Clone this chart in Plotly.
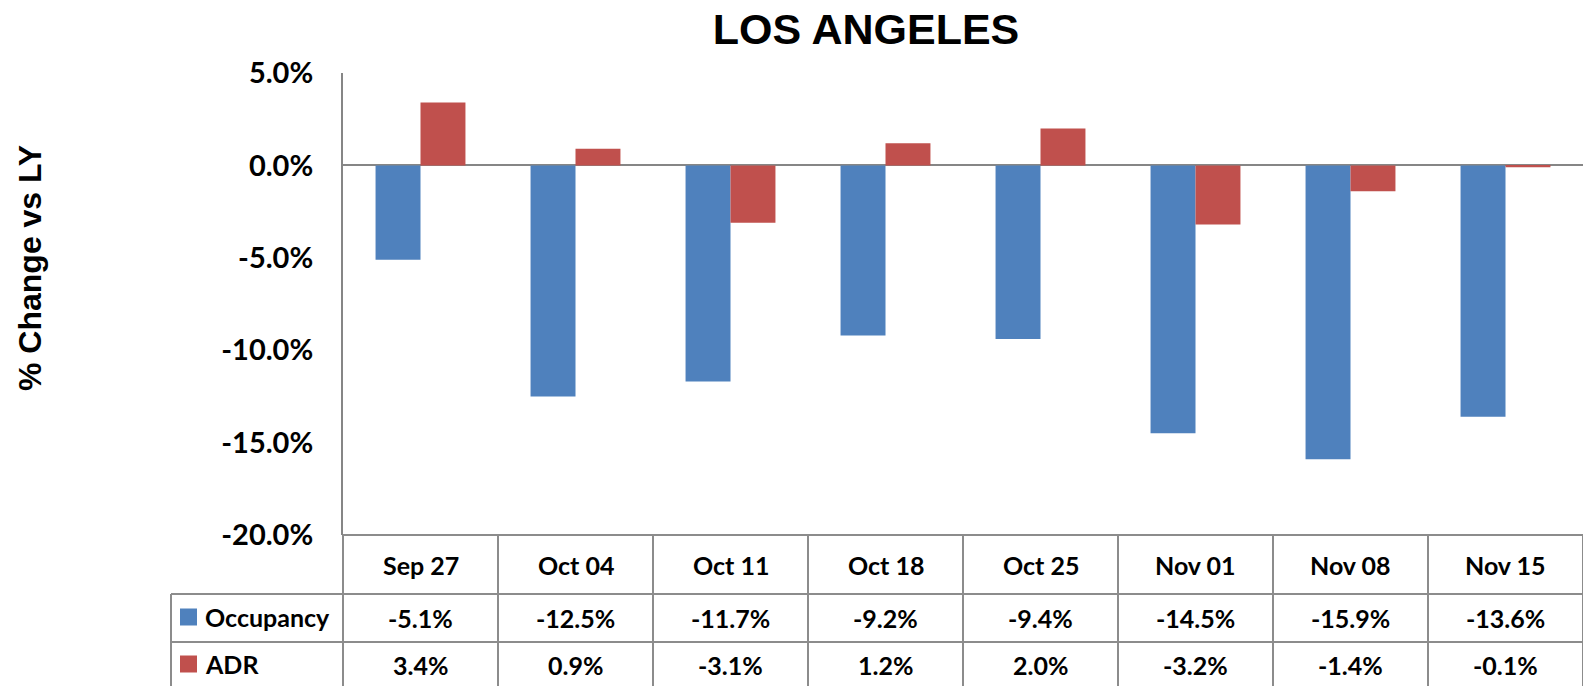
import plotly.graph_objects as go

# ---- data ----
CATEGORIES = ["Sep 27", "Oct 04", "Oct 11", "Oct 18", "Oct 25", "Nov 01", "Nov 08", "Nov 15"]
OCCUPANCY = [-5.1, -12.5, -11.7, -9.2, -9.4, -14.5, -15.9, -13.6]
ADR = [3.4, 0.9, -3.1, 1.2, 2.0, -3.2, -1.4, -0.1]
SERIES_NAMES = ["Occupancy", "ADR"]
TICK_VALS = [5, 0, -5, -10, -15, -20]
TICK_TEXT = ["5.0%", "0.0%", "-5.0%", "-10.0%", "-15.0%", "-20.0%"]
TITLE = "LOS ANGELES"
Y_TITLE = "% Change vs LY"

# ---- style ----
W, H = 1583, 686
ML, MR, MT, MB = 343, 0, 73, 151
PLOT_H = H - MT - MB
PLOT_W = W - ML - MR
BLUE = "#4F81BD"
RED = "#C0504D"
GRID = "#8C8C8C"
AXIS = "#868686"
FONT = "Lato"
TITLE_FONT = "Liberation Sans"


def py(px):  # pixel (from top) -> paper y
    return (H - MB - px) / PLOT_H


def dx(px):  # pixel (from left) -> x domain
    return (px - ML) / PLOT_W


fig = go.Figure()
fig.add_trace(go.Bar(x=CATEGORIES, y=OCCUPANCY, name=SERIES_NAMES[0], marker_color=BLUE,
                     marker_line_width=0))
fig.add_trace(go.Bar(x=CATEGORIES, y=ADR, name=SERIES_NAMES[1], marker_color=RED,
                     marker_line_width=0))

shapes = []
row_top = H - MB  # 535
row1 = 594
row2 = 642
row_bot = 700
n = len(CATEGORIES)
# header top line
shapes.append(dict(type="line", xref="x domain", yref="paper", x0=0, x1=1,
                   y0=py(row_top), y1=py(row_top), line=dict(color=GRID, width=2)))
# row lines
for r in (row1, row2):
    shapes.append(dict(type="line", xref="x domain", yref="paper", x0=dx(171), x1=1,
                       y0=py(r), y1=py(r), line=dict(color=GRID, width=2)))
# vertical column separators
for i in range(n + 1):
    shapes.append(dict(type="line", xref="x domain", yref="paper", x0=i / n, x1=i / n,
                       y0=py(row_top), y1=py(row_bot), line=dict(color=GRID, width=2)))
# left border of legend column
shapes.append(dict(type="line", xref="x domain", yref="paper", x0=dx(171), x1=dx(171),
                   y0=py(row1), y1=py(row_bot), line=dict(color=GRID, width=2)))
# legend swatches
for (yc, col) in ((617, BLUE), (664, RED)):
    shapes.append(dict(type="rect", xref="x domain", yref="paper", x0=dx(180), x1=dx(197),
                       y0=py(yc - 8.5), y1=py(yc + 8.5), fillcolor=col, line=dict(width=0)))

annotations = []
tfont = dict(family=FONT, size=25, color="#000000", weight="bold")
for c, o, a in zip(CATEGORIES, OCCUPANCY, ADR):
    annotations.append(dict(x=c, xref="x", y=py((row_top + row1) / 2), yref="paper", text=c,
                            showarrow=False, font=tfont, xanchor="center", yanchor="middle"))
    annotations.append(dict(x=c, xref="x", y=py((row1 + row2) / 2), yref="paper",
                            text=f"{o:.1f}%", showarrow=False, font=tfont,
                            xanchor="center", yanchor="middle"))
    annotations.append(dict(x=c, xref="x", y=py(665), yref="paper",
                            text=f"{a:.1f}%", showarrow=False, font=tfont,
                            xanchor="center", yanchor="middle"))
for name, yc in zip(SERIES_NAMES, (617, 664)):
    annotations.append(dict(x=dx(203), xref="x domain", y=py(yc), yref="paper", text=name,
                            showarrow=False, font=tfont, xanchor="left", yanchor="middle"))
# y axis title
annotations.append(dict(x=dx(30), xref="x domain", y=py(268), yref="paper",
                        text=Y_TITLE, textangle=-90, showarrow=False,
                        font=dict(family=TITLE_FONT, size=32, color="#000000", weight="bold"),
                        xanchor="center", yanchor="middle"))

fig.update_layout(
    width=W, height=H,
    margin=dict(l=ML, r=MR, t=MT, b=MB, pad=0),
    paper_bgcolor="white", plot_bgcolor="white",
    showlegend=False,
    barmode="group", bargap=0.42, bargroupgap=0,
    title=dict(text=TITLE, x=(866 / W), xanchor="center", y=1 - 29 / H, yanchor="middle",
               font=dict(family=TITLE_FONT, size=43, color="#000000", weight="bold")),
    xaxis=dict(type="category", showticklabels=False, showline=False, showgrid=False,
               ticks="", zeroline=False, range=[-0.5, n - 0.5]),
    yaxis=dict(range=[-20, 5], tickvals=TICK_VALS, ticktext=TICK_TEXT, showgrid=False,
               showline=True, linecolor=AXIS, linewidth=2, ticks="",
               zeroline=True, zerolinecolor=AXIS, zerolinewidth=2,
               ticklabelstandoff=22,
               tickfont=dict(family=FONT, size=29, color="#000000", weight="bold")),
    shapes=shapes,
    annotations=annotations,
)

fig.write_html(
    "out.html",
    config={"displayModeBar": False},
    post_script="document.body.style.margin='0';document.body.style.overflow='hidden';",
)
